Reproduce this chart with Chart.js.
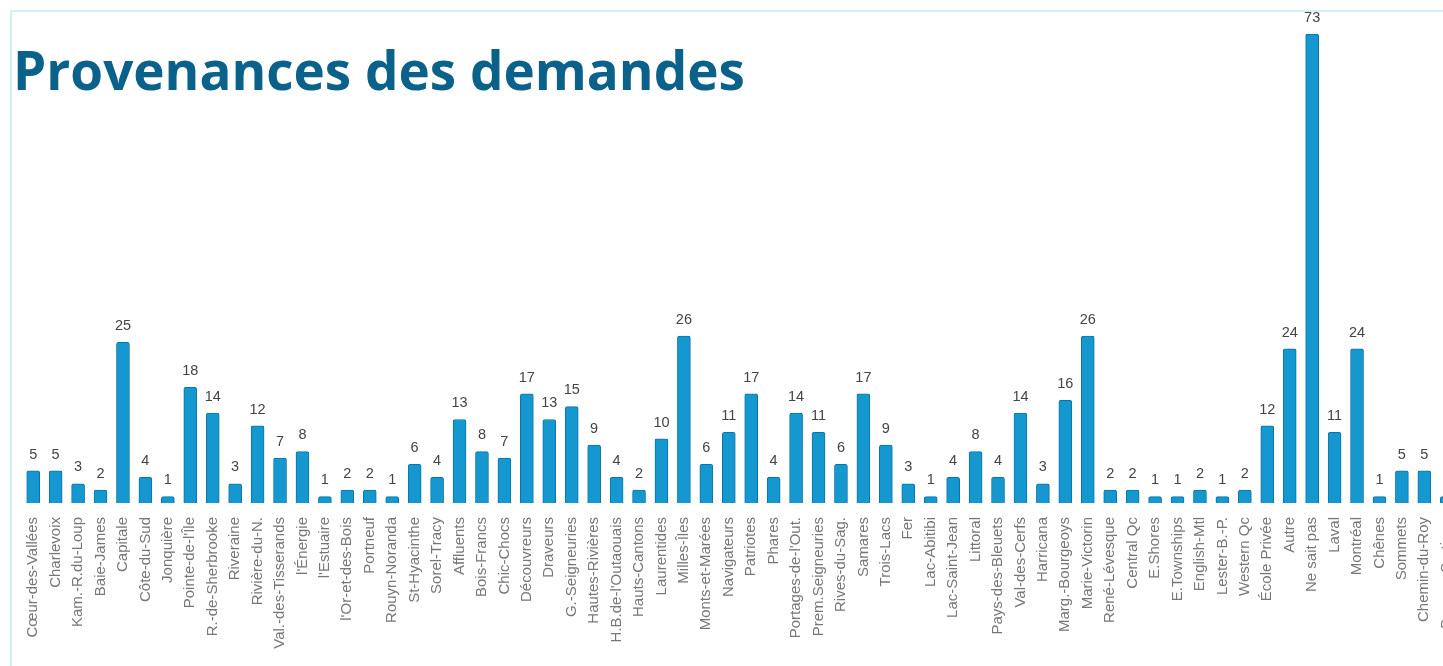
<!DOCTYPE html>
<html>
<head>
<meta charset="utf-8">
<script src="https://cdn.jsdelivr.net/npm/chart.js@4/dist/chart.umd.min.js"></script>
<style>
    html, body { margin: 0; padding: 0; background: #fff; overflow: hidden; }
    body { width: 1443px; height: 666px; position: relative; }
    #frame {
        position: absolute; left: 10px; top: 10px; right: 0; bottom: 0;
        border-left: 2px solid #d9edf7; border-top: 2px solid #d9edf7;
    }
    h1 {
        position: absolute; left: 13px; top: 33px; margin: 0;
        font-family: "Open Sans", sans-serif; font-weight: 700; font-size: 53px;
        color: #0a6189; z-index: 2;
    }
    #wrap { position: absolute; left: 0; top: 0; width: 1480px; height: 666px; }
</style>
</head>
<body>
<div id="frame"></div>
<h1>Provenances des demandes</h1>
<div id="wrap"><canvas id="provenance_chart"></canvas></div>
<script>
var regions = [
    "Cœur-des-Vallées", "Charlevoix", "Kam.-R.du-Loup", "Baie-James", "Capitale",
    "Côte-du-Sud", "Jonquière", "Pointe-de-l'Île", "R.-de-Sherbrooke", "Riveraine",
    "Rivière-du-N.", "Val.-des-Tisserands", "l'Énergie", "l'Estuaire", "l'Or-et-des-Bois",
    "Portneuf", "Rouyn-Noranda", "St-Hyacinthe", "Sorel-Tracy", "Affluents",
    "Bois-Francs", "Chic-Chocs", "Découvreurs", "Draveurs", "G.-Seigneuries",
    "Hautes-Rivières", "H.B.de-l'Outaouais", "Hauts-Cantons", "Laurentides", "Milles-Îles",
    "Monts-et-Marées", "Navigateurs", "Patriotes", "Phares", "Portages-de-l'Out.",
    "Prem.Seigneuries", "Rives-du-Sag.", "Samares", "Trois-Lacs", "Fer",
    "Lac-Abitibi", "Lac-Saint-Jean", "Littoral", "Pays-des-Bleuets", "Val-des-Cerfs",
    "Harricana", "Marg.-Bourgeoys", "Marie-Victorin", "René-Lévesque", "Central Qc",
    "E.Shores", "E.Townships", "English-Mtl", "Lester-B.-P.", "Western Qc",
    "École Privée", "Autre", "Ne sait pas", "Laval", "Montréal",
    "Chênes", "Sommets", "Chemin-du-Roy", "Beauce-Sartigan"
]
var demandes = [
    5, 5, 3, 2, 25,
    4, 1, 18, 14, 3,
    12, 7, 8, 1, 2,
    2, 1, 6, 4, 13,
    8, 7, 17, 13, 15,
    9, 4, 2, 10, 26,
    6, 11, 17, 4, 14,
    11, 6, 17, 9, 3,
    1, 4, 8, 4, 14,
    3, 16, 26, 2, 2,
    1, 1, 2, 1, 2,
    12, 24, 73, 11, 24,
    1, 5, 5, 1
]

// little plugin for the numbers above the bars
var valueLabels = {
    id: "valueLabels",
    afterDatasetsDraw(chart) {
        var ctx = chart.ctx
        var meta = chart.getDatasetMeta(0)
        ctx.save()
        ctx.font = "14.5px 'Liberation Sans', Arial, sans-serif"
        ctx.fillStyle = "#444"
        ctx.textAlign = "center"
        ctx.textBaseline = "bottom"
        meta.data.forEach((bar, i) => {
            ctx.fillText(demandes[i], bar.x, bar.y - 9)
        })
        ctx.restore()
    }
}

var ctx = document.getElementById("provenance_chart").getContext("2d")
var myChart = new Chart(ctx, {
    type: "bar",
    data: {
        labels: regions,
        datasets: [{
            label: "Demandes",
            data: demandes,
            backgroundColor: "#1597d0",
            borderColor: "#0c74a5",
            borderWidth: 1,
            borderRadius: 2,
            borderSkipped: "bottom",
            barThickness: 13
        }]
    },
    options: {
        responsive: true,
        maintainAspectRatio: false,
        animation: false,
        layout: { padding: { left: 22, right: 22, top: 34, bottom: 0 } },
        plugins: {
            legend: { display: false },
            tooltip: { enabled: false }
        },
        scales: {
            x: {
                grid: { display: false },
                border: { display: false },
                afterFit: s => { s.height = 163 },
                ticks: {
                    autoSkip: false,
                    maxRotation: 90,
                    minRotation: 90,
                    padding: 6,
                    color: "#777",
                    font: { family: "'Liberation Sans', Arial, sans-serif", size: 15 }
                }
            },
            y: {
                display: false,
                min: 0,
                max: 73
            }
        }
    },
    plugins: [valueLabels]
})
</script>
</body>
</html>
